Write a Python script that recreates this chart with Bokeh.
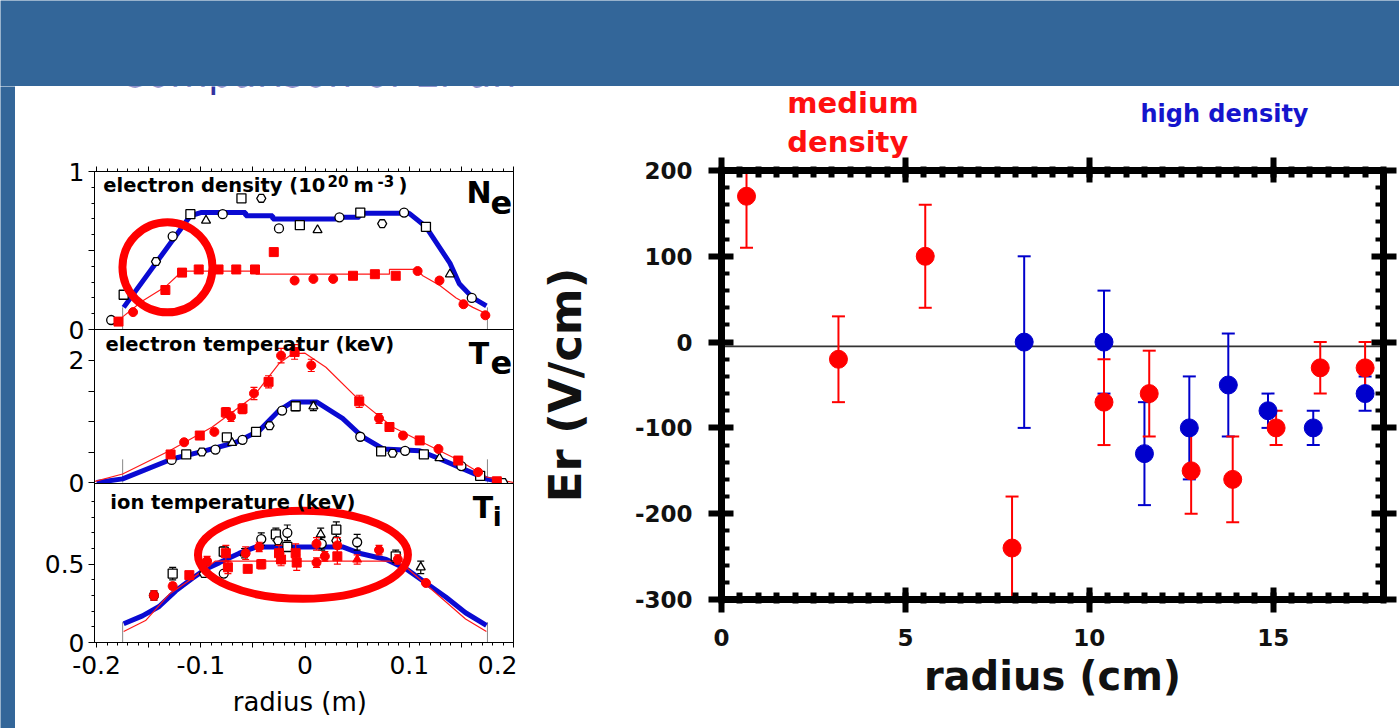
import numpy as np
from bokeh.plotting import figure
from bokeh.layouts import column, row
from bokeh.models import Range1d, LinearAxis, FixedTicker, SingleIntervalTicker, Label, Span
from bokeh.embed import file_html
from bokeh.resources import INLINE
from bokeh.core.validation import silence
from bokeh.core.validation.warnings import MISSING_RENDERERS

silence(MISSING_RENDERERS, True)

# ---------------- data: left profiles (radius in m) ----------------
ne_high_line_r = [-0.174, -0.110, -0.100, -0.057, -0.057, -0.031, -0.031, 0.030, 0.030, 0.052, 0.052, 0.100, 0.116, 0.129, 0.139, 0.148, 0.161, 0.174]
ne_high_line = [0.14, 0.72, 0.74, 0.74, 0.72, 0.72, 0.70, 0.70, 0.71, 0.71, 0.735, 0.735, 0.65, 0.52, 0.42, 0.29, 0.20, 0.15]
ne_med_line_r = [-0.175, -0.156, -0.134, -0.121, -0.114, -0.047, -0.047, 0.081, 0.081, 0.107, 0.113, 0.129, 0.145, 0.161, 0.174]
ne_med_line = [0.08, 0.18, 0.27, 0.35, 0.37, 0.37, 0.35, 0.35, 0.38, 0.38, 0.34, 0.28, 0.20, 0.14, 0.10]
ne_high_r = [-0.186, -0.174, -0.143, -0.127, -0.110, -0.095, -0.079, -0.061, -0.042, -0.025, -0.005, 0.012, 0.033, 0.053, 0.074, 0.095, 0.116, 0.139, 0.160]
ne_high = [0.06, 0.22, 0.43, 0.59, 0.73, 0.69, 0.73, 0.83, 0.83, 0.64, 0.66, 0.63, 0.71, 0.74, 0.67, 0.74, 0.65, 0.35, 0.20]
ne_med_r = [-0.179, -0.165, -0.134, -0.118, -0.102, -0.083, -0.066, -0.048, -0.030, -0.010, 0.008, 0.027, 0.046, 0.067, 0.087, 0.108, 0.129, 0.152, 0.173]
ne_med = [0.05, 0.11, 0.25, 0.36, 0.38, 0.38, 0.38, 0.38, 0.49, 0.31, 0.32, 0.32, 0.34, 0.35, 0.34, 0.37, 0.31, 0.16, 0.09]

te_med_line_r = [-0.206, -0.175, -0.130, -0.089, -0.050, -0.025, -0.012, 0.000, 0.020, 0.052, 0.084, 0.116, 0.148, 0.174, 0.200]
te_med_line = [0.0, 0.14, 0.52, 0.91, 1.40, 1.95, 2.11, 2.12, 1.89, 1.35, 0.91, 0.63, 0.36, 0.09, 0.0]
te_high_line_r = [-0.200, -0.175, -0.127, -0.098, -0.066, -0.044, -0.025, -0.012, 0.011, 0.036, 0.055, 0.075, 0.110, 0.129, 0.174, 0.193]
te_high_line = [0.0, 0.06, 0.39, 0.51, 0.66, 0.85, 1.18, 1.32, 1.32, 1.05, 0.75, 0.55, 0.52, 0.39, 0.06, 0.0]
te_med_r = [-0.129, -0.116, -0.101, -0.087, -0.076, -0.071, -0.060, -0.049, -0.035, -0.023, -0.010, 0.006, 0.052, 0.071, 0.081, 0.094, 0.110, 0.128, 0.147, 0.166, 0.184]
te_med = [0.46, 0.66, 0.77, 0.83, 1.15, 1.08, 1.21, 1.46, 1.65, 2.08, 2.14, 1.92, 1.33, 1.05, 0.91, 0.77, 0.69, 0.55, 0.36, 0.17, 0.02]
te_med_err = [0, 0, 0, 0, 0.08, 0.08, 0.08, 0.10, 0.10, 0.12, 0.12, 0.10, 0.10, 0.08, 0, 0, 0, 0, 0, 0, 0]
te_high_r = [-0.128, -0.114, -0.099, -0.086, -0.075, -0.070, -0.060, -0.047, -0.034, -0.022, -0.009, 0.008, 0.053, 0.073, 0.084, 0.096, 0.114, 0.129, 0.150, 0.168, 0.190]
te_high = [0.37, 0.46, 0.50, 0.54, 0.74, 0.65, 0.70, 0.83, 0.93, 1.18, 1.25, 1.25, 0.75, 0.51, 0.48, 0.52, 0.46, 0.40, 0.27, 0.11, 0.0]
te_high_err = [0, 0, 0, 0, 0, 0, 0, 0, 0, 0.05, 0.07, 0.07, 0.03, 0, 0, 0, 0, 0, 0, 0, 0]

ti_high_line_r = [-0.174, -0.156, -0.140, -0.124, -0.108, -0.095, -0.082, -0.063, -0.047, 0.036, 0.052, 0.078, 0.097, 0.116, 0.135, 0.154, 0.174]
ti_high_line = [0.12, 0.17, 0.23, 0.33, 0.41, 0.47, 0.51, 0.57, 0.61, 0.61, 0.57, 0.53, 0.47, 0.38, 0.29, 0.19, 0.11]
ti_med_line_r = [-0.174, -0.153, -0.130, -0.108, -0.086, 0.093, 0.097, 0.116, 0.135, 0.154, 0.174]
ti_med_line = [0.07, 0.14, 0.31, 0.41, 0.52, 0.52, 0.48, 0.37, 0.26, 0.15, 0.07]
ti_med_r = [-0.145, -0.127, -0.111, -0.094, -0.076, -0.074, -0.057, -0.055, -0.044, -0.042, -0.025, -0.023, -0.009, -0.008, 0.011, 0.011, 0.019, 0.031, 0.031, 0.050, 0.071, 0.089, 0.116]
ti_med = [0.30, 0.36, 0.43, 0.52, 0.57, 0.48, 0.57, 0.47, 0.61, 0.50, 0.57, 0.53, 0.57, 0.51, 0.63, 0.51, 0.55, 0.62, 0.55, 0.53, 0.59, 0.53, 0.38]
ti_med_err = [0.03, 0.02, 0.0, 0.03, 0.05, 0.04, 0.04, 0.0, 0.03, 0.03, 0.05, 0.04, 0.06, 0.05, 0.04, 0.03, 0.03, 0.05, 0.05, 0.03, 0.03, 0.03, 0.0]
ti_high_r = [-0.145, -0.127, -0.097, -0.078, -0.078, -0.058, -0.042, -0.028, -0.026, -0.017, -0.017, 0.015, 0.016, 0.030, 0.030, 0.050, 0.087, 0.111]
ti_high = [0.30, 0.44, 0.44, 0.44, 0.58, 0.57, 0.66, 0.69, 0.65, 0.70, 0.61, 0.69, 0.63, 0.72, 0.65, 0.64, 0.55, 0.48]
ti_high_err = [0.03, 0.04, 0.0, 0.0, 0.03, 0.03, 0.04, 0.04, 0.03, 0.05, 0.03, 0.04, 0.04, 0.05, 0.04, 0.05, 0.04, 0.04]

edge_r = [-0.175, 0.175]
edge_h = {"ne": 0.14, "te": 0.38, "ti": 0.13}
ne_mark = (-0.132, 0.394)
ti_mark = (-0.002, 0.56)

# ---------------- data: right, Er vs radius (cm) ----------------
er_med_r = [0.68, 3.18, 5.54, 7.90, 10.40, 11.63, 12.77, 13.90, 15.08, 16.28, 17.50]
er_med = [170, -20, 100, -240, -70, -60, -150, -160, -100, -30, -30]
er_med_err = [60, 50, 60, 60, 50, 50, 50, 50, 20, 30, 30]
er_high_r = [8.23, 10.40, 11.50, 12.72, 13.78, 14.86, 16.09, 17.50]
er_high = [0, 0, -130, -100, -50, -80, -100, -60]
er_high_err = [100, 60, 60, 60, 60, 20, 20, 20]
zero_level = -5
er_x_ticks = [0, 5, 10, 15]
er_y_ticks = [200, 100, 0, -100, -200, -300]

# ---------------- styles ----------------
SLIDE_BLUE = "#336699"
RED = "#ff0000"
BLUE = "#0000cc"
LINE_BLUE = "#0a0ad2"
LINE_RED = "#ff1a1a"
SANS = "DejaVu Sans"
BASELINE_FIX = 0.34   # em: Label baselines render this much lower than requested


def bare(w, h, xr, yr, color=None):
    f = figure(width=w, height=h, x_range=Range1d(*xr), y_range=Range1d(*yr), toolbar_location=None,
               output_backend="svg", x_axis_location=None, y_axis_location=None, min_border=0,
               frame_align=False, title=None)
    f.grid.visible = False
    f.outline_line_color = None
    if color is not None:
        f.background_fill_color = color
        f.border_fill_color = color
    else:
        f.background_fill_alpha = 0
        f.border_fill_alpha = 0
    return f


def errbars(p, x, y, e, color, lw, cap):
    x = np.asarray(x, float); y = np.asarray(y, float); e = np.asarray(e, float)
    m = e > 0
    p.segment(x0=x[m], y0=y[m] - e[m], x1=x[m], y1=y[m] + e[m], line_color=color, line_width=lw)
    p.scatter(x=np.concatenate([x[m], x[m]]), y=np.concatenate([y[m] - e[m], y[m] + e[m]]),
              marker="dash", size=cap, line_color=color, line_width=lw)


X_TICKS = [-0.2, -0.15, -0.1, -0.05, 0, 0.05, 0.1, 0.15, 0.2]
X_MINOR = [round(-0.2 + 0.01 * i, 2) for i in range(41)]
X_LABELS = {-0.2: "-0.2", -0.15: "", -0.1: "-0.1", -0.05: "", 0: "0", 0.05: "", 0.1: "0.1", 0.15: "", 0.2: "0.2"}


def hide_labels(a, ticks):
    a.major_label_overrides = {t: "" for t in ticks}
    a.major_label_standoff = 0


def left_panel(height, yr, top, bottom, ticks, minor, labels):
    p = figure(width=502, height=height, x_range=Range1d(-0.202, 0.2), y_range=Range1d(*yr),
               toolbar_location=None, output_backend="svg", x_axis_location=None, frame_align=False,
               title=None,
               min_border_left=79, min_border_right=4, min_border_top=top, min_border_bottom=bottom)
    p.grid.visible = False
    p.outline_line_color = "black"
    p.outline_line_width = 1
    p.background_fill_alpha = 0
    p.border_fill_alpha = 0
    ax = p.yaxis[0]
    ax.ticker = FixedTicker(ticks=ticks, minor_ticks=minor)
    ax.major_label_overrides = labels
    ax.major_label_text_font = SANS
    ax.major_label_text_font_size = "25px"
    ax.major_label_text_color = "black"
    ax.major_label_standoff = 4
    ax.major_tick_in = 0
    ax.major_tick_out = 6
    ax.minor_tick_in = 0
    ax.minor_tick_out = 3
    ax.axis_line_color = "black"
    return p


def xaxis(p, loc, with_labels):
    a = LinearAxis(ticker=FixedTicker(ticks=X_TICKS, minor_ticks=X_MINOR))
    a.major_tick_in = 0
    a.major_tick_out = 5
    a.minor_tick_in = 0
    a.minor_tick_out = 3
    if with_labels:
        a.major_label_overrides = X_LABELS
        a.major_label_text_font = SANS
        a.major_label_text_font_size = "25px"
        a.major_label_text_color = "black"
        a.major_label_standoff = 8
        a.axis_label = "radius  (m)"
        a.axis_label_text_font = SANS
        a.axis_label_text_font_size = "26px"
        a.axis_label_text_font_style = "normal"
        a.axis_label_text_color = "black"
        a.axis_label_standoff = 10
    else:
        hide_labels(a, X_TICKS)
    p.add_layout(a, loc)


def text(p, ppu, x, y, s, size, color="black", style="bold", fix=None):
    shift = (BASELINE_FIX * size if fix is None else fix) / ppu
    p.add_layout(Label(x=x, y=y + shift, text=s, text_font=SANS, text_font_size=f"{size}px",
                       text_font_style=style, text_color=color, text_baseline="alphabetic", text_align="left"))


def profile(p, key, hr, h, mr, m, hx, hy, he, mx, my, me, h_mk, m_mk):
    p.segment(x0=edge_r, y0=[0, 0], x1=edge_r, y1=[edge_h[key]] * 2, line_color="#888888", line_width=1)
    p.line(hr, h, line_color=LINE_BLUE, line_width=5)
    p.line(mr, m, line_color=LINE_RED, line_width=1.2)
    if he is not None:
        errbars(p, hx, hy, he, "black", 1.2, 7)
    p.scatter(hx, hy, marker=h_mk, size=9, fill_color="white", line_color="black", line_width=1.3)
    if me is not None:
        errbars(p, mx, my, me, RED, 1.2, 7)
    p.scatter(mx, my, marker=m_mk, size=9, fill_color=RED, line_color=RED)


shapes_open = ["circle", "square", "hex", "circle", "square", "triangle"]
shapes_fill = ["square", "circle"]

# ---- strip above the left panels: partly hidden slide title ----
lt_top = bare(502, 40, (-0.2778, 0.2038), (1.285, 1.538))
text(lt_top, 158, -0.1786, 1.525, "Comparison of Er and", 39, color="#3333a0", style="normal", fix=15)

# ---- panel 1: electron density ----
P1 = 158
p1 = left_panel(257, (0, 1.0), 85, 14, [0, 0.5, 1], [0.1, 0.2, 0.3, 0.4, 0.6, 0.7, 0.8, 0.9],
                {0: "0", 0.5: "", 1: "1"})
p1.margin = (-40, 0, 0, 0)
xaxis(p1, "above", False)
profile(p1, "ne", ne_high_line_r, ne_high_line, ne_med_line_r, ne_med_line,
        ne_high_r, ne_high, None, ne_med_r, ne_med, None,
        [shapes_open[i % 6] for i in range(len(ne_high_r))],
        ["square", "circle", "square", "square", "square", "square", "square", "square", "square",
         "circle", "circle", "circle", "square", "square", "square", "circle", "circle", "circle", "circle"])
p1.ellipse(x=[ne_mark[0]], y=[ne_mark[1]], width=90, height=90, width_units="screen", height_units="screen",
           fill_color=None, line_color=RED, line_width=8)
text(p1, P1, -0.1935, 0.869, "electron density (10", 19.5)
text(p1, P1, 0.0215, 0.905, "20", 15)
text(p1, P1, 0.0464, 0.869, "m", 19.5)
text(p1, P1, 0.0695, 0.905, "-3", 15)
text(p1, P1, 0.0896, 0.869, ")", 19.5)
text(p1, P1, 0.155, 0.80, "N", 30)
text(p1, P1, 0.178, 0.734, "e", 32)

# ---- panel 2: electron temperature ----
P2 = 61
p2 = left_panel(168, (-0.016, 2.508), 0, 14, [0, 0.5, 1, 1.5, 2], [],
                {0: "0", 0.5: "", 1: "", 1.5: "", 2: "2"})
p2.margin = (-14, 0, 0, 0)
profile(p2, "te", te_high_line_r, te_high_line, te_med_line_r, te_med_line,
        te_high_r, te_high, te_high_err, te_med_r, te_med, te_med_err,
        [shapes_open[i % 6] for i in range(len(te_high_r))],
        [shapes_fill[i % 2] for i in range(len(te_med_r))])
text(p2, P2, -0.1915, 2.16, "electron temperatur (keV)", 19.5)
text(p2, P2, 0.157, 1.95, "T", 30)
text(p2, P2, 0.178, 1.79, "e", 32)

# ---- panel 3: ion temperature ----
P3 = 156.7
p3 = left_panel(245, (0, 1.015), 0, 86, [0, 0.5], [0.1, 0.2, 0.3, 0.4, 0.6, 0.7, 0.8, 0.9],
                {0: "0", 0.5: "0.5"})
p3.margin = (-14, 0, 0, 0)
xaxis(p3, "below", True)
profile(p3, "ti", ti_high_line_r, ti_high_line, ti_med_line_r, ti_med_line,
        ti_high_r, ti_high, ti_high_err, ti_med_r, ti_med, ti_med_err,
        [shapes_open[i % 6] for i in range(len(ti_high_r))],
        ["circle", "circle", "square", "circle", "square", "square", "circle", "square", "circle", "square",
         "square", "square", "square", "square", "circle", "circle", "circle", "circle", "square",
         "triangle", "circle", "circle", "circle"])
p3.ellipse(x=[ti_mark[0]], y=[ti_mark[1]], width=210, height=88, width_units="screen", height_units="screen",
           fill_color=None, line_color=RED, line_width=8)
text(p3, P3, -0.1868, 0.851, "ion temperature (keV)", 19.5)
text(p3, P3, 0.161, 0.796, "T", 30)
text(p3, P3, 0.180, 0.745, "i", 26)

# ---------------- right: caption strip ----------------
PT = 0.858
pr_top = bare(882, 86, (-5.547, 18.435), (197.7, 297.9))
text(pr_top, PT, 1.79, 267.5, "medium", 29, color="#ff1010")
text(pr_top, PT, 1.79, 222, "density", 29, color="#ff1010")
text(pr_top, PT, 11.39, 256, "high density", 24, color="#1515cc")

# ---------------- right panel: Er ----------------
pr = figure(width=882, height=616, x_range=Range1d(0, 18), y_range=Range1d(-300, 200),
            toolbar_location=None, output_backend="svg", frame_align=False, title=None,
            min_border_left=204, min_border_right=16, min_border_top=58, min_border_bottom=129)
pr.margin = (-60, 0, 0, 0)
pr.grid.visible = False
pr.outline_line_color = None
pr.background_fill_alpha = 0
pr.border_fill_alpha = 0
top_ax = LinearAxis()
right_ax = LinearAxis()
pr.add_layout(top_ax, "above")
pr.add_layout(right_ax, "right")
bx = pr.below[0]
ly = pr.left[0]

for a in (bx, top_ax):
    a.ticker = SingleIntervalTicker(interval=5, num_minor_ticks=10)
    a.minor_tick_in = 7
    a.minor_tick_out = 4
    a.minor_tick_line_width = 6
for a in (ly, right_ax):
    a.ticker = SingleIntervalTicker(interval=100, num_minor_ticks=5)
    a.minor_tick_in = 8
    a.minor_tick_out = 0
    a.minor_tick_line_width = 4
for a in (bx, top_ax, ly, right_ax):
    a.axis_line_width = 7
    a.axis_line_color = "black"
    a.major_tick_line_width = 6
    a.major_tick_in = 12
    a.major_tick_out = 13
    a.major_label_text_font = SANS
    a.major_label_text_font_style = "bold"
    a.major_label_text_font_size = "23px"
    a.major_label_text_color = "#111111"
    a.major_label_standoff = 16

hide_labels(top_ax, er_x_ticks + [18])
hide_labels(right_ax, er_y_ticks)

bx.major_label_overrides = {t: str(t) for t in er_x_ticks}
bx.axis_label = "radius (cm)"
bx.axis_label_text_font = SANS
bx.axis_label_text_font_style = "bold"
bx.axis_label_text_font_size = "40px"
bx.axis_label_text_color = "#111111"
bx.axis_label_standoff = 4

ly.major_label_overrides = {t: str(t) for t in er_y_ticks}
ly.axis_label = "Er (V/cm)"
ly.axis_label_text_font = SANS
ly.axis_label_text_font_style = "bold"
ly.axis_label_text_font_size = "45px"
ly.axis_label_text_color = "#111111"
ly.axis_label_standoff = 40

pr.add_layout(Span(location=zero_level, dimension="width", line_color="#333333", line_width=1.6, level="underlay"))

errbars(pr, er_high_r, er_high, er_high_err, BLUE, 2, 13)
errbars(pr, er_med_r, er_med, er_med_err, RED, 2, 13)
pr.scatter(er_high_r, er_high, marker="circle", size=18, fill_color=BLUE, line_color=BLUE)
pr.scatter(er_med_r, er_med, marker="circle", size=18, fill_color=RED, line_color=RED)

# ---------------- page layout ----------------
header = bare(1399, 86, (0, 1), (0, 1), SLIDE_BLUE)
strip = bare(15, 642, (0, 1), (0, 1), SLIDE_BLUE)
left = column(lt_top, p1, p2, p3, spacing=0)
right = column(pr_top, pr, spacing=0)
body = row(strip, left, right, spacing=0)
page = column(header, body, spacing=0)

open("out.html", "w").write(file_html(page, INLINE))
